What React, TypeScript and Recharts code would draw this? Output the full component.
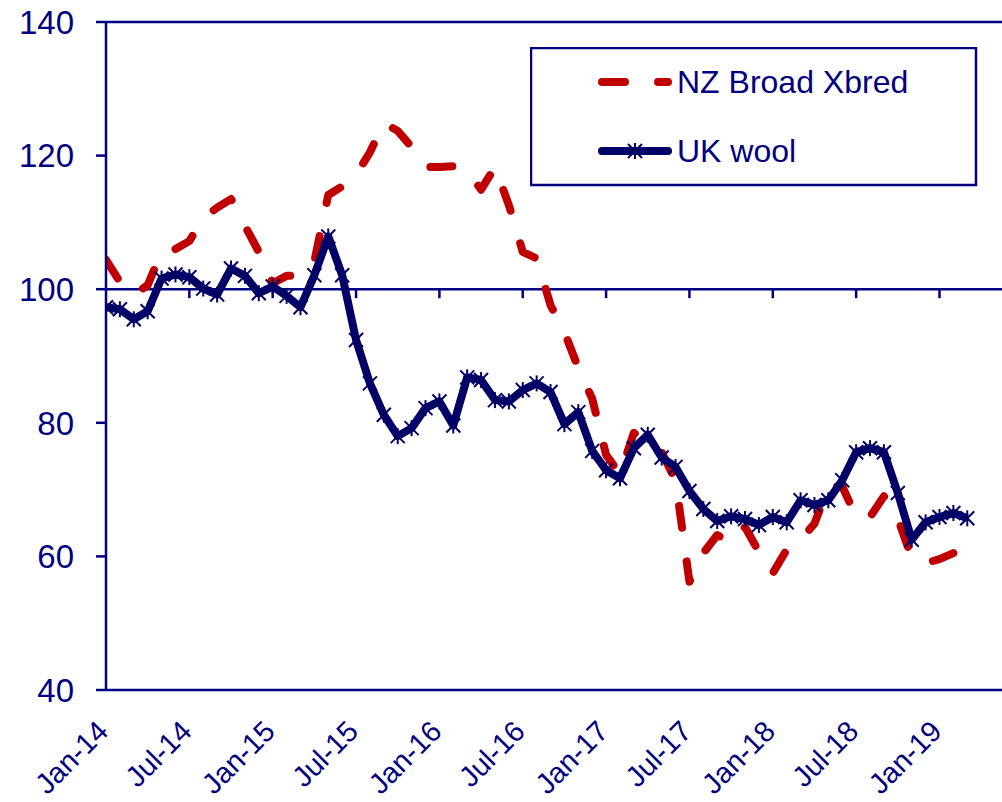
import React from 'react';
import { LineChart, Line, XAxis, YAxis, ReferenceLine } from 'recharts';

const NAVY = '#000080';
const DARK = '#000066';
const RED = '#C00000';
const FONT = '"Liberation Sans", Arial, sans-serif';

const years = ['14', '15', '16', '17', '18', '19'];
const monthNames = ['Jan', 'Feb', 'Mar', 'Apr', 'May', 'Jun', 'Jul', 'Aug', 'Sep', 'Oct', 'Nov', 'Dec'];
const months = years.flatMap((y) => monthNames.map((m) => `${m}-${y}`)).slice(0, 63);

const tickIdx = [0, 6, 12, 18, 24, 30, 36, 42, 48, 54, 60];
const yTicks = [40, 60, 80, 100, 120, 140];

const nzBroad = [
  104.4, 101.1, 99.2, 100.6, 105.6, 106.0, 107.2, 110.7, 112.2, 113.5, 109.5, 105.6,
  100.9, 102.0, 102.0, 104.2, 114.1, 115.4, 117.1, 120.5, 124.9, 123.7, 121.3, 118.3,
  118.3, 118.4, 117.7, 114.9, 118.3, 112.6, 105.6, 104.6, 97.6, 93.6, 88.2, 83.6,
  75.2, 72.3, 78.5, 76.8, 75.6, 71.4, 56.2, 60.5, 63.2, 62.0, 64.4, 60.7,
  57.5, 61.0, 62.5, 64.9, 70.4, 70.5, 65.9, 65.9, 69.0, 65.7, 59.8, 59.0,
  59.6, 60.5, 61.3,
];

const ukWool = [
  97.3, 97.0, 95.5, 96.7, 101.6, 102.2, 101.8, 100.1, 99.2, 103.1, 102.0, 99.4,
  100.4, 99.0, 97.3, 102.1, 107.9, 102.1, 92.4, 85.9, 81.2, 78.0, 79.2, 82.2,
  83.2, 79.6, 86.8, 86.4, 83.4, 83.2, 84.9, 85.9, 84.6, 79.8, 81.6, 75.8,
  72.9, 71.7, 76.2, 78.2, 74.8, 73.4, 69.8, 67.1, 65.3, 66.0, 65.6, 64.7,
  65.9, 65.1, 68.4, 67.7, 68.4, 71.4, 75.6, 76.2, 75.6, 69.5, 62.5, 65.1,
  65.9, 66.5, 65.7,
];

const data = months.map((m, i) => ({ i, label: m, nz: nzBroad[i], uk: ukWool[i] }));

// tick marks hang ~9px below the 100 line (668px per 100 units)
const tickLen = (9 * 100) / 668;

const Star = (props: any) => {
  const { cx, cy } = props;
  if (cx == null || cy == null) return null;
  const r = 7;
  return (
    <g stroke={DARK} strokeWidth={2}>
      <line x1={cx - r} y1={cy - r} x2={cx + r} y2={cy + r} />
      <line x1={cx - r} y1={cy + r} x2={cx + r} y2={cy - r} />
      <line x1={cx} y1={cy - r - 1} x2={cx} y2={cy + r + 1} />
    </g>
  );
};

const XTick = (props: any) => {
  const { x, y, payload } = props;
  const tx = x + 4;
  const ty = y + 43;
  return (
    <text
      x={tx}
      y={ty}
      textAnchor="end"
      fill={NAVY}
      fontSize={29}
      fontFamily={FONT}
      transform={`rotate(-45, ${tx}, ${ty})`}
    >
      {months[payload.value]}
    </text>
  );
};

const LegendBox = () => (
  <svg width={448} height={140} style={{ display: 'block' }}>
    <rect x={1} y={1} width={445} height={137} fill="#fff" stroke={NAVY} strokeWidth={2.5} />
    <line x1={72} y1={35} x2={138} y2={35} stroke={RED} strokeWidth={8} strokeLinecap="round" strokeDasharray="23 33" />
    <text x={147} y={46} fill={NAVY} fontSize={32} fontFamily={FONT}>NZ Broad Xbred</text>
    <line x1={72} y1={104} x2={138} y2={104} stroke={DARK} strokeWidth={8} strokeLinecap="round" />
    <Star cx={105} cy={104} />
    <text x={147} y={115} fill={NAVY} fontSize={32} fontFamily={FONT}>UK wool</text>
  </svg>
);

export default function App() {
  return (
    <div style={{ position: 'absolute', left: 0, top: 0, width: 1002, height: 802, background: '#fff', overflow: 'hidden' }}>
      <LineChart width={1002} height={802} data={data} margin={{ top: 22, right: 0, bottom: 0, left: 0 }}>
        <XAxis
          dataKey="i"
          type="number"
          domain={[0, 64.5]}
          allowDataOverflow
          ticks={tickIdx}
          interval={0}
          height={112}
          tickSize={0}
          tickMargin={0}
          tickLine={false}
          axisLine={{ stroke: NAVY, strokeWidth: 2.5 }}
          tick={<XTick />}
        />
        <YAxis
          type="number"
          domain={[40, 140]}
          ticks={yTicks}
          interval={0}
          width={106}
          tickSize={10}
          tickMargin={22}
          axisLine={{ stroke: NAVY, strokeWidth: 2.5 }}
          tickLine={{ stroke: NAVY, strokeWidth: 2.5 }}
          tick={{ fill: NAVY, fontSize: 33, fontFamily: FONT }}
        />
        <ReferenceLine y={140} stroke={NAVY} strokeWidth={2.5} />
        <ReferenceLine y={100} stroke={NAVY} strokeWidth={2.5} />
        {tickIdx.slice(1).map((t) => (
          <ReferenceLine
            key={t}
            segment={[{ x: t, y: 100 }, { x: t, y: 100 - tickLen }]}
            stroke={NAVY}
            strokeWidth={2.5}
          />
        ))}
        <Line
          type="linear"
          dataKey="nz"
          stroke={RED}
          strokeWidth={8}
          strokeDasharray="22 34"
          strokeLinecap="round"
          strokeLinejoin="round"
          dot={false}
          activeDot={false}
          isAnimationActive={false}
        />
        <Line
          type="linear"
          dataKey="uk"
          stroke={DARK}
          strokeWidth={8}
          strokeLinejoin="round"
          dot={<Star />}
          activeDot={false}
          isAnimationActive={false}
        />
      </LineChart>
      <div style={{ position: 'absolute', left: 530, top: 47 }}>
        <LegendBox />
      </div>
    </div>
  );
}
